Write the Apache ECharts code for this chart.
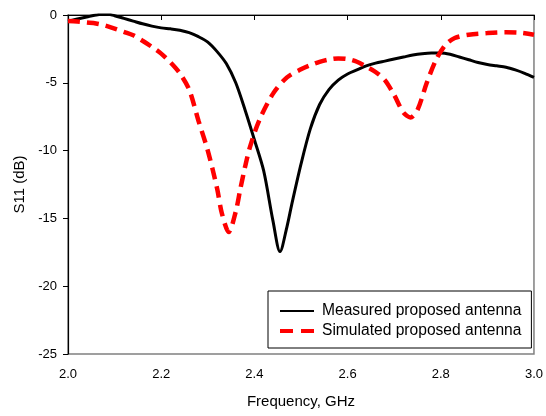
<!DOCTYPE html>
<html>
<head>
<meta charset="utf-8">
<script src="https://cdn.jsdelivr.net/npm/echarts@6/dist/echarts.min.js"></script>
<style>
  html, body { margin: 0; padding: 0; background: #fff; }
  #chart { width: 546px; height: 416px; }
</style>
</head>
<body>
<div id="chart"></div>
<script>
// Reflection coefficient S11 (dB) versus frequency (GHz)
const measuredFreq = [2.00, 2.02, 2.04, 2.06, 2.08, 2.10, 2.12, 2.14, 2.16, 2.18, 2.20, 2.22, 2.24, 2.26, 2.28, 2.30, 2.32, 2.34, 2.36, 2.38, 2.40, 2.42, 2.44, 2.455, 2.47, 2.48, 2.50, 2.52, 2.54, 2.56, 2.58, 2.60, 2.62, 2.64, 2.66, 2.68, 2.70, 2.72, 2.74, 2.76, 2.78, 2.80, 2.82, 2.84, 2.86, 2.88, 2.90, 2.92, 2.94, 2.96, 2.98, 3.00];
const measuredS11 = [-0.45, -0.3, -0.15, 0.0, 0.1, -0.05, -0.25, -0.45, -0.65, -0.82, -0.95, -1.02, -1.12, -1.3, -1.6, -2.0, -2.7, -3.6, -5.0, -7.0, -9.2, -11.5, -15.2, -17.45, -15.6, -14.0, -11.0, -8.4, -6.6, -5.5, -4.8, -4.35, -4.05, -3.75, -3.55, -3.4, -3.25, -3.1, -2.95, -2.85, -2.8, -2.8, -2.9, -3.1, -3.3, -3.5, -3.65, -3.75, -3.85, -4.05, -4.3, -4.6];

const simulatedFreq = [2.00, 2.02, 2.04, 2.06, 2.08, 2.10, 2.12, 2.14, 2.16, 2.18, 2.20, 2.22, 2.24, 2.26, 2.28, 2.30, 2.32, 2.33, 2.345, 2.36, 2.37, 2.38, 2.39, 2.41, 2.44, 2.47, 2.50, 2.52, 2.54, 2.56, 2.58, 2.60, 2.62, 2.64, 2.66, 2.68, 2.70, 2.72, 2.735, 2.75, 2.77, 2.79, 2.81, 2.83, 2.86, 2.90, 2.94, 2.97, 3.00];
const simulatedS11 = [-0.45, -0.48, -0.55, -0.62, -0.78, -1.0, -1.25, -1.5, -1.9, -2.35, -2.85, -3.5, -4.3, -5.5, -7.8, -10.0, -12.8, -14.6, -16.0, -14.5, -12.8, -11.2, -9.8, -7.8, -5.8, -4.6, -4.0, -3.7, -3.45, -3.28, -3.2, -3.25, -3.45, -3.8, -4.2, -4.8, -5.9, -7.2, -7.55, -7.0, -5.0, -3.3, -2.2, -1.7, -1.45, -1.33, -1.27, -1.3, -1.45];

const seriesNames = ['Measured proposed antenna', 'Simulated proposed antenna'];
const xTitle = 'Frequency, GHz';
const yTitle = 'S11 (dB)';

const pairs = (xs, ys) => xs.map((x, i) => [x, ys[i]]);
const font = 'Liberation Sans, Arial, sans-serif';

const measuredLine = { color: '#000', width: 3 };
const simulatedLine = { color: '#ff0000', width: 4.5, type: [12, 7] };

const chart = echarts.init(document.getElementById('chart'), null, { renderer: 'canvas' });
chart.setOption({
  animation: false,
  backgroundColor: '#fff',
  grid: {
    left: 68, top: 15, right: 8, bottom: 62,
    show: true, borderColor: '#808080', borderWidth: 1.5, backgroundColor: 'transparent'
  },
  xAxis: {
    type: 'value', min: 2.0, max: 3.0, interval: 0.2,
    name: xTitle, nameLocation: 'middle', nameGap: 40,
    nameTextStyle: { fontFamily: font, fontSize: 15, color: '#000' },
    axisLine: { lineStyle: { color: '#000', width: 1.2 } },
    axisTick: { show: true, length: 5, lineStyle: { color: '#000' } },
    axisLabel: { fontFamily: font, fontSize: 13, color: '#000', margin: 14,
      formatter: v => v.toFixed(1) },
    splitLine: { show: false }
  },
  yAxis: {
    type: 'value', min: -25, max: 0, interval: 5,
    name: yTitle, nameLocation: 'middle', nameGap: 40, nameRotate: 90,
    nameTextStyle: { fontFamily: font, fontSize: 15, color: '#000' },
    axisLine: { show: true, lineStyle: { color: '#000', width: 1.2 } },
    axisTick: { show: true, length: 5, lineStyle: { color: '#000' } },
    axisLabel: { fontFamily: font, fontSize: 13, color: '#000', margin: 11 },
    splitLine: { show: false }
  },
  legend: {
    orient: 'vertical',
    left: 268, top: 291,
    padding: [12, 10, 9, 10],
    borderColor: '#000', borderWidth: 1, backgroundColor: '#fff',
    itemWidth: 34, itemHeight: 17, itemGap: 4,
    itemStyle: { color: 'rgba(0,0,0,0)', borderWidth: 0, opacity: 0 },
    textStyle: { fontFamily: font, fontSize: 15.6, color: '#000', padding: [0, 0, 0, 3] },
    data: [
      { name: seriesNames[0], lineStyle: { color: '#000', width: 2.2 } },
      { name: seriesNames[1], lineStyle: { color: '#ff0000', width: 4, type: [13, 8] } }
    ]
  },
  series: [
    {
      name: seriesNames[0], type: 'line', data: pairs(measuredFreq, measuredS11),
      smooth: 0.3, symbol: 'none', clip: true,
      lineStyle: measuredLine, itemStyle: { color: '#000' }
    },
    {
      name: seriesNames[1], type: 'line', data: pairs(simulatedFreq, simulatedS11),
      smooth: 0.3, symbol: 'none', clip: true,
      lineStyle: simulatedLine, itemStyle: { color: '#ff0000' }
    }
  ]
});
</script>
</body>
</html>
